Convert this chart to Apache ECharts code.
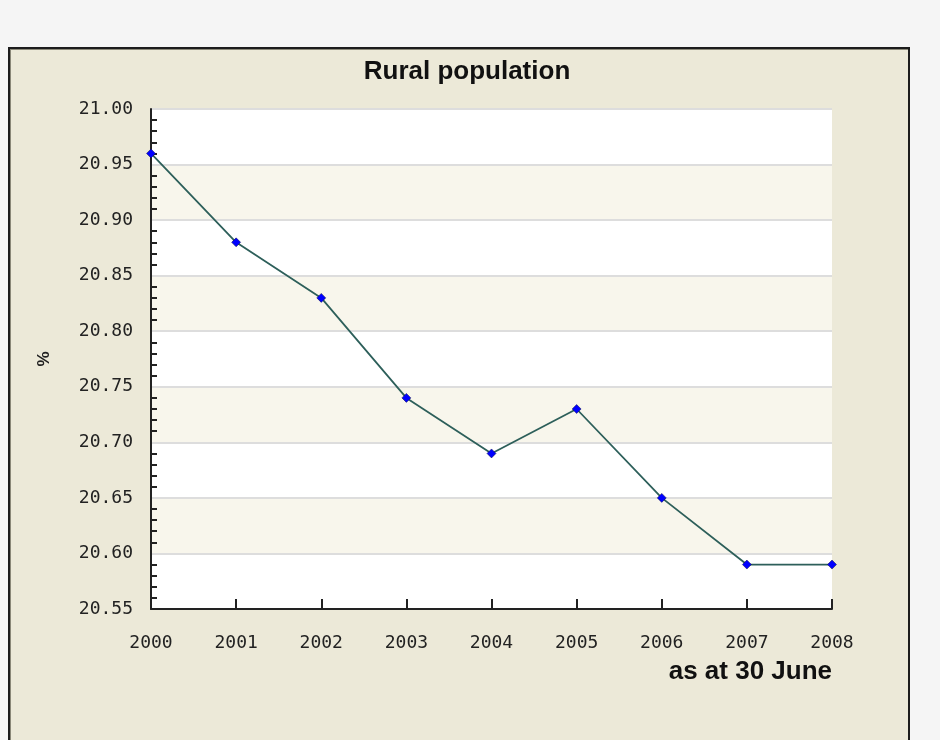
<!DOCTYPE html>
<html>
<head>
<meta charset="utf-8">
<script src="https://cdn.jsdelivr.net/npm/echarts@6/dist/echarts.min.js"></script>
<style>
  body { margin: 0; background: #f5f5f5; }
  #panel {
    position: absolute; left: 8px; top: 47px; width: 898px; height: 700px;
    background: #ECE9D8; border: 2px solid #1c1c1c; border-bottom: none;
    box-shadow: inset 1px 1px 0 #8a8878;
  }
  #chart { position: absolute; left: 0; top: 0; width: 940px; height: 740px; }
</style>
</head>
<body>
<div id="panel"></div>
<div id="chart"></div>
<script>
// data
const years = ['2000', '2001', '2002', '2003', '2004', '2005', '2006', '2007', '2008']
const ruralPct = [20.96, 20.88, 20.83, 20.74, 20.69, 20.73, 20.65, 20.59, 20.59]

const axisFont = { fontFamily: 'DejaVu Sans Mono', fontSize: 18, color: '#222' }
const boldFont = { fontFamily: 'Liberation Sans', fontWeight: 'bold', fontSize: 26, color: '#111' }

const chart = echarts.init(document.getElementById('chart'))

chart.setOption({
  backgroundColor: 'transparent',
  animation: false,
  title: {
    text: 'Rural population',
    left: 462,
    top: 54,
    textAlign: 'center',
    textStyle: boldFont
  },
  grid: { left: 151, top: 109, right: 108, bottom: 131 },
  xAxis: {
    type: 'category',
    data: years,
    boundaryGap: false,
    name: 'as at 30 June',
    nameLocation: 'end',
    nameGap: 0,
    nameTextStyle: Object.assign({
      align: 'right', verticalAlign: 'top', padding: [50, 0, 0, 0]
    }, boldFont),
    axisLine: { lineStyle: { color: '#222', width: 2 } },
    axisTick: { inside: true, length: 10, lineStyle: { color: '#222', width: 2 } },
    axisLabel: Object.assign({ margin: 25 }, axisFont),
    splitLine: { show: false }
  },
  yAxis: {
    type: 'value',
    min: 20.55,
    max: 21.0,
    interval: 0.05,
    name: '%',
    nameLocation: 'middle',
    nameRotate: 90,
    nameGap: 98,
    nameTextStyle: { fontFamily: 'Liberation Sans', fontWeight: 'bold', fontSize: 17, color: '#222' },
    axisLine: { show: true, lineStyle: { color: '#222', width: 2 } },
    axisTick: { inside: true, length: 7, lineStyle: { color: '#222', width: 2 } },
    minorTick: { show: true, splitNumber: 5, length: 6, lineStyle: { color: '#222', width: 2 } },
    axisLabel: Object.assign({ margin: 18, formatter: v => v.toFixed(2) }, axisFont),
    splitLine: { lineStyle: { color: '#dddddd', width: 2 } },
    splitArea: { show: true, areaStyle: { color: ['#ffffff', '#F8F6EC'] } }
  },
  series: [{
    type: 'line',
    data: ruralPct,
    symbol: 'diamond',
    symbolSize: 9,
    itemStyle: { color: '#0000ff', borderColor: '#101040', borderWidth: 0.5 },
    lineStyle: { color: '#2D5F5A', width: 1.8 }
  }]
})
</script>
</body>
</html>
